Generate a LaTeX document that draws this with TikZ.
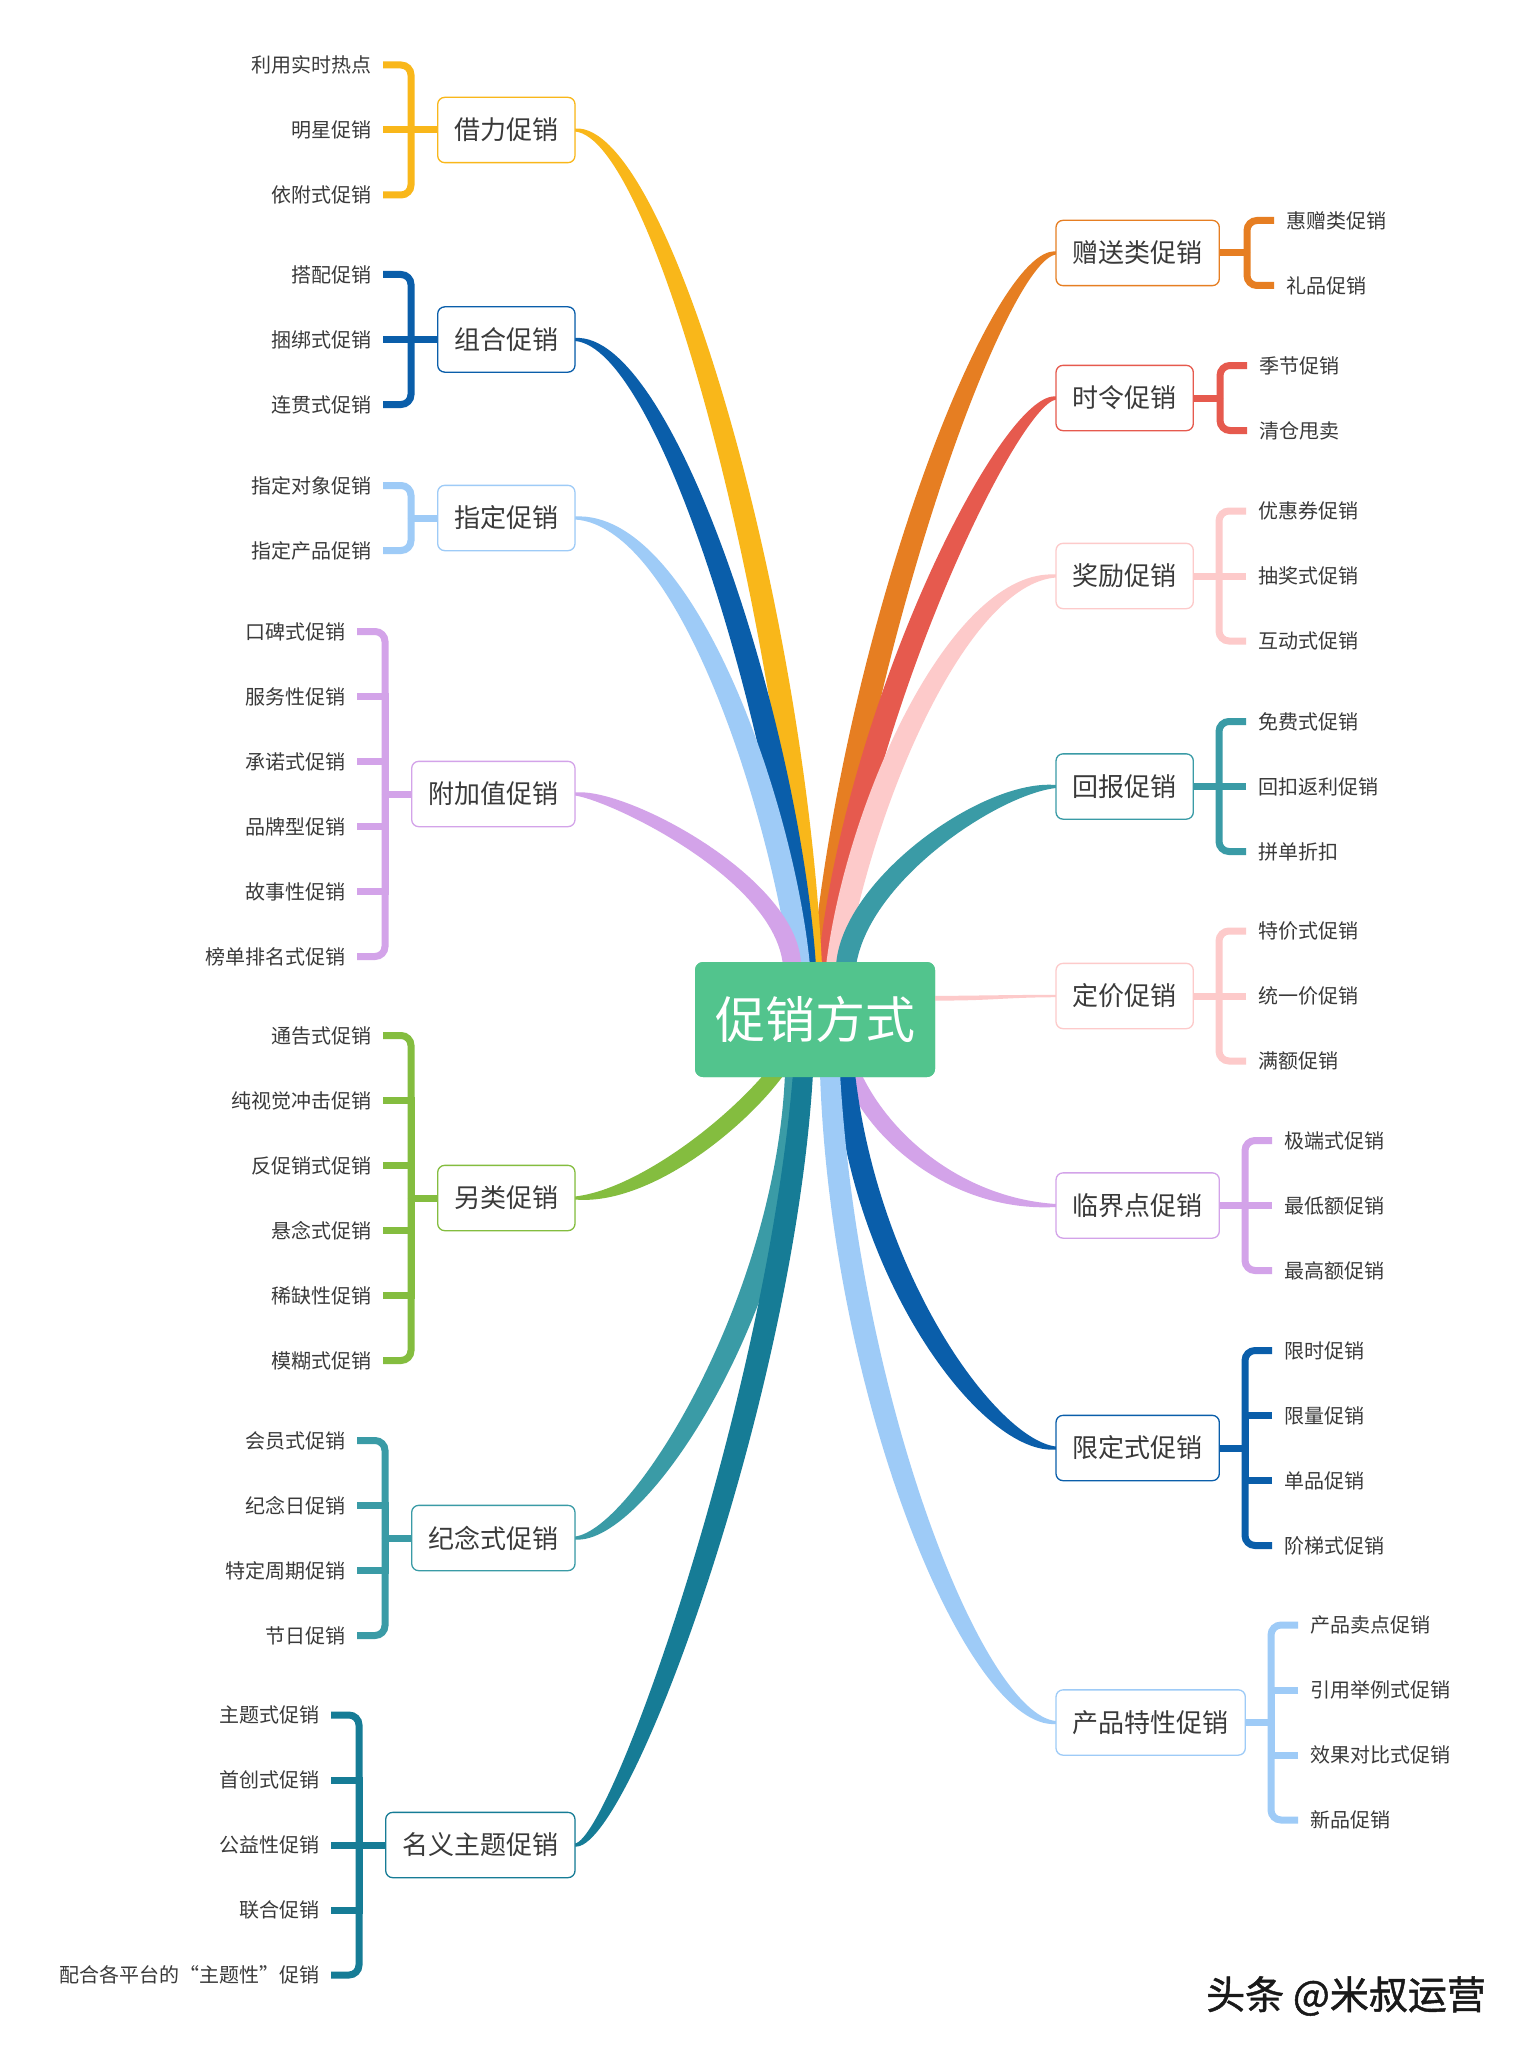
\documentclass[tikz,border=0pt]{standalone}
\usepackage{fontspec}
\setmainfont{Noto Sans CJK SC}
\newfontfamily\wmfont[FakeBold=1.2]{Noto Sans CJK SC}
\usetikzlibrary{calc}
\definecolor{cYel}{HTML}{F9B71A}
\definecolor{cDBlue}{HTML}{0A5EAA}
\definecolor{cLBlue}{HTML}{9ECBF7}
\definecolor{cLilac}{HTML}{D3A3E9}
\definecolor{cGreen}{HTML}{84BD3F}
\definecolor{cTeal}{HTML}{3A9BA6}
\definecolor{cDTeal}{HTML}{167C96}
\definecolor{cOrange}{HTML}{E67E22}
\definecolor{cRed}{HTML}{E65A4E}
\definecolor{cPink}{HTML}{FDCACA}
\definecolor{cRoot}{HTML}{52C48D}
\definecolor{cTxt}{HTML}{3A3A3A}

% #1 colour, #2 start, #3 control near start, #4 control near end, #5 end,
% #6 half width at start, #7 side sign (+1/-1), #8 half width at end
\newcommand\branch[8]{%
  \fill[#1] ($(#2)+(-#6,0)$) .. controls ($(#3)+({-1.4*#6},0)$) and ($(#4)+({-0.8*#6},{(#7)*0.8*#6})$) .. ($(#5)+(0,{(#7)*#8})$)
     -- ($(#5)+(0,{-1*(#7)*#8})$) .. controls ($(#4)+({0.8*#6},{-1*(#7)*0.8*#6})$) and ($(#3)+({1.4*#6},0)$) .. ($(#2)+(#6,0)$) -- cycle;}

\newcommand\leftgroup[5]{%
  \foreach \t [count=\i] in {#5} {
    \node[leaf, anchor=east] (#1-\i) at (#3, {#4+(\i-1)*65}) {\t};
    \xdef\nleaves{\i}
  }
  \coordinate (#1-k) at ($(#1-1.east)+(39,0)$);
  \foreach \i in {1,...,\nleaves} {
    \ifnum\i>1 \ifnum\i<\nleaves
      \draw[brk=#2] ($(#1-\i.east)+(11,0)$) -| (#1-k |- #1.west);
    \fi\fi
  }
  \draw[brk=#2, rounded corners=10] ($(#1-1.east)+(11,0)$) -| (#1-k |- #1.west);
  \draw[brk=#2, rounded corners=10] ($(#1-\nleaves.east)+(11,0)$) -| (#1-k |- #1.west);
  \draw[brk=#2] (#1-k |- #1.west) -- (#1.west);
}
\newcommand\rightgroup[5]{%
  \foreach \t [count=\i] in {#5} {
    \node[leaf, anchor=west] (#1-\i) at (#3, {#4+(\i-1)*65}) {\t};
    \xdef\nleaves{\i}
  }
  \coordinate (#1-k) at ($(#1-1.west)+(-39,0)$);
  \foreach \i in {1,...,\nleaves} {
    \ifnum\i>1 \ifnum\i<\nleaves
      \draw[brk=#2] ($(#1-\i.west)+(-12,0)$) -| (#1-k |- #1.east);
    \fi\fi
  }
  \draw[brk=#2, rounded corners=10] ($(#1-1.west)+(-12,0)$) -| (#1-k |- #1.east);
  \draw[brk=#2, rounded corners=10] ($(#1-\nleaves.west)+(-12,0)$) -| (#1-k |- #1.east);
  \draw[brk=#2] (#1-k |- #1.east) -- (#1.east);
}

\begin{document}
\begin{tikzpicture}[x=1pt,y=-1pt,
  mainbox/.style={draw=#1, line width=1.3pt, fill=white, rounded corners=7pt,
     minimum height=64pt, inner xsep=16pt, inner ysep=0pt, text=cTxt,
     font=\fontsize{26}{30}\selectfont},
  maintext/.style={mainbox=#1, draw=none, fill=none},
  leaf/.style={inner sep=0pt, text=cTxt, font=\fontsize{20}{24}\selectfont},
  brk/.style={draw=#1, line width=7pt, line cap=butt},
  rootbox/.style={fill=cRoot, rounded corners=8pt, minimum width=240pt, minimum height=115pt,
     text=white, inner sep=0pt, font=\fontsize{50}{56}\selectfont}]
\useasboundingbox (0,0) rectangle (1518,2049);
\fill[white] (0,0) rectangle (1518,2049);

% root (placed first for anchors; redrawn on top later)
\node[rootbox] (root) at (815,1019.5) {促销方式};

% main nodes
\node[mainbox=cYel, anchor=east] (A) at (575,130) {借力促销};
\node[mainbox=cDBlue, anchor=east] (B) at (575,339.5) {组合促销};
\node[mainbox=cLBlue, anchor=east] (C) at (575,518) {指定促销};
\node[mainbox=cLilac, anchor=east] (D) at (575,794) {附加值促销};
\node[mainbox=cGreen, anchor=east] (E) at (575,1198) {另类促销};
\node[mainbox=cTeal, anchor=east] (F) at (575,1538) {纪念式促销};
\node[mainbox=cDTeal, anchor=east] (G) at (575,1845) {名义主题促销};

\node[mainbox=cOrange, anchor=west] (P) at (1056,253) {赠送类促销};
\node[mainbox=cRed, anchor=west] (Q) at (1056,398) {时令促销};
\node[mainbox=cPink, anchor=west] (R) at (1056,576) {奖励促销};
\node[mainbox=cTeal, anchor=west] (S) at (1056,786.5) {回报促销};
\node[mainbox=cPink, anchor=west] (T) at (1056,996) {定价促销};
\node[mainbox=cLilac, anchor=west] (U) at (1056,1205.5) {临界点促销};
\node[mainbox=cDBlue, anchor=west] (V) at (1056,1448) {限定式促销};
\node[mainbox=cLBlue, anchor=west] (W) at (1056,1722.5) {产品特性促销};

% start points on the root
\coordinate (sA) at ($(root.north)+(-3,4)$);
\coordinate (sB) at ($(root.north)+(-9,4)$);
\coordinate (sC) at ($(root.north)+(-15,4)$);
\coordinate (sD) at ($(root.north)+(-23,4)$);
\coordinate (sP) at ($(root.north)+(7,4)$);
\coordinate (sQ) at ($(root.north)+(13,4)$);
\coordinate (sR) at ($(root.north)+(21,4)$);
\coordinate (sS) at ($(root.north)+(31,4)$);
\coordinate (sE) at ($(root.south)+(-40,-4)$);
\coordinate (sF) at ($(root.south)+(-20,-4)$);
\coordinate (sG) at ($(root.south)+(-12,-4)$);
\coordinate (sU) at ($(root.south)+(37,-4)$);
\coordinate (sV) at ($(root.south)+(30,-4)$);
\coordinate (sW) at ($(root.south)+(15,-4)$);

% branches: right side
\branch{cOrange}{sP}{860,620}{1000,253}{P.west}{10}{-1}{1.5}
\branch{cRed}{sQ}{860,700}{1010,398}{Q.west}{10}{-1}{1.5}
\branch{cPink}{sR}{860,800}{960,576}{R.west}{10}{-1}{1.5}
\branch{cTeal}{sS}{855,880}{990,786.5}{S.west}{10}{-1}{1.5}
\fill[cPink] ($(root.east)+(-3,-23.5)$) .. controls (990,995.5) and (1000,995) .. ($(T.west)+(0,-1.2)$)
   -- ($(T.west)+(0,1.2)$) .. controls (1000,997.5) and (990,1001) .. ($(root.east)+(-3,-19)$) -- cycle;
\branch{cLilac}{sU}{880,1140}{960,1205.5}{U.west}{9}{1}{1.5}
\branch{cDBlue}{sV}{865,1280}{990,1448}{V.west}{10}{1}{1.5}
\branch{cLBlue}{sW}{845,1400}{975,1722.5}{W.west}{10}{1}{1.5}
% branches: left side
\branch{cYel}{sA}{790,600}{660,130}{A.east}{10}{1}{1.5}
\branch{cDBlue}{sB}{785,720}{665,339.5}{B.east}{10}{1}{1.5}
\branch{cLBlue}{sC}{780,800}{685,518}{C.east}{10}{1}{1.5}
\branch{cLilac}{sD}{788,880}{620,794}{D.east}{9}{1}{1.5}
\branch{cGreen}{sE}{730,1130}{640,1198}{E.east}{10}{-1}{1.5}
\branch{cTeal}{sF}{790,1300}{640,1538}{F.east}{10}{-1}{1.5}
\branch{cDTeal}{sG}{780,1400}{620,1845}{G.east}{10}{-1}{1.5}

% redraw nodes on top of branches
\node[rootbox] at (root) {促销方式};
\foreach \n/\c in {A/cYel,B/cDBlue,C/cLBlue,D/cLilac,E/cGreen,F/cTeal,G/cDTeal,
                   P/cOrange,Q/cRed,R/cPink,S/cTeal,T/cPink,U/cLilac,V/cDBlue,W/cLBlue}
  \draw[\c, line width=1.3pt, fill=white, rounded corners=7pt] (\n.south west) rectangle (\n.north east);
\node[maintext=cYel, anchor=east] at (575,130) {借力促销};
\node[maintext=cDBlue, anchor=east] at (575,339.5) {组合促销};
\node[maintext=cLBlue, anchor=east] at (575,518) {指定促销};
\node[maintext=cLilac, anchor=east] at (575,794) {附加值促销};
\node[maintext=cGreen, anchor=east] at (575,1198) {另类促销};
\node[maintext=cTeal, anchor=east] at (575,1538) {纪念式促销};
\node[maintext=cDTeal, anchor=east] at (575,1845) {名义主题促销};
\node[maintext=cOrange, anchor=west] at (1056,253) {赠送类促销};
\node[maintext=cRed, anchor=west] at (1056,398) {时令促销};
\node[maintext=cPink, anchor=west] at (1056,576) {奖励促销};
\node[maintext=cTeal, anchor=west] at (1056,786.5) {回报促销};
\node[maintext=cPink, anchor=west] at (1056,996) {定价促销};
\node[maintext=cLilac, anchor=west] at (1056,1205.5) {临界点促销};
\node[maintext=cDBlue, anchor=west] at (1056,1448) {限定式促销};
\node[maintext=cLBlue, anchor=west] at (1056,1722.5) {产品特性促销};

% leaf groups
\leftgroup{A}{cYel}{372}{65}{利用实时热点,明星促销,依附式促销}
\leftgroup{B}{cDBlue}{372}{274.5}{搭配促销,捆绑式促销,连贯式促销}
\leftgroup{C}{cLBlue}{372}{485.5}{指定对象促销,指定产品促销}
\leftgroup{D}{cLilac}{346}{631.5}{口碑式促销,服务性促销,承诺式促销,品牌型促销,故事性促销,榜单排名式促销}
\leftgroup{E}{cGreen}{372}{1035.5}{通告式促销,纯视觉冲击促销,反促销式促销,悬念式促销,稀缺性促销,模糊式促销}
\leftgroup{F}{cTeal}{346}{1440.5}{会员式促销,纪念日促销,特定周期促销,节日促销}
\leftgroup{G}{cDTeal}{320}{1715}{主题式促销,首创式促销,公益性促销,联合促销,配合各平台的“主题性”促销}

\rightgroup{P}{cOrange}{1286}{220.5}{惠赠类促销,礼品促销}
\rightgroup{Q}{cRed}{1259}{365.5}{季节促销,清仓甩卖}
\rightgroup{R}{cPink}{1258}{511}{优惠券促销,抽奖式促销,互动式促销}
\rightgroup{S}{cTeal}{1258}{721.5}{免费式促销,回扣返利促销,拼单折扣}
\rightgroup{T}{cPink}{1258}{931}{特价式促销,统一价促销,满额促销}
\rightgroup{U}{cLilac}{1284}{1140.5}{极端式促销,最低额促销,最高额促销}
\rightgroup{V}{cDBlue}{1284}{1350.5}{限时促销,限量促销,单品促销,阶梯式促销}
\rightgroup{W}{cLBlue}{1310}{1625}{产品卖点促销,引用举例式促销,效果对比式促销,新品促销}

% watermark
\node[anchor=west, inner sep=0pt, text=black!90, font=\wmfont\fontsize{39}{44}\selectfont] (wm) at (1206,1996) {头条 @米叔运营};
\end{tikzpicture}
\end{document}
